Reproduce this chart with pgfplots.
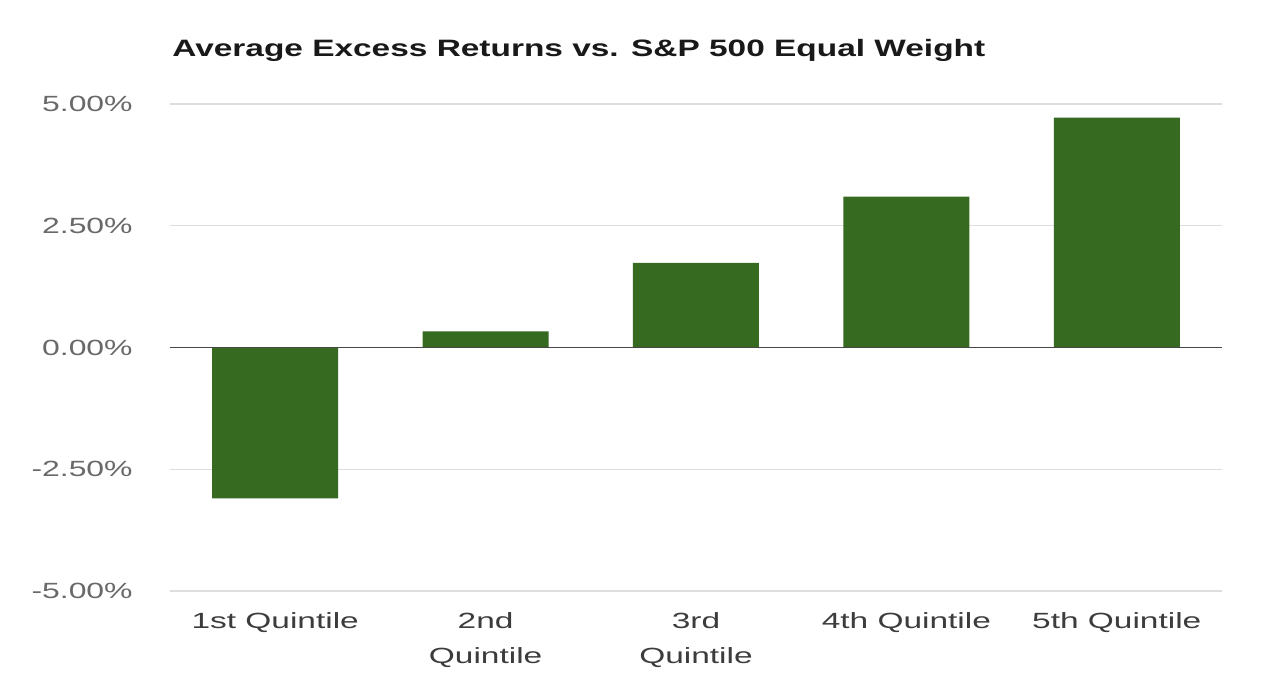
\documentclass[border=0pt]{standalone}
\usepackage{fontspec}
\setmainfont{Liberation Sans}
\newfontfamily\titlefont[FakeStretch=1.41]{Liberation Sans}
\newfontfamily\labelfont[FakeStretch=1.52]{Liberation Sans}
\newfontfamily\ylabelfont[FakeStretch=1.45]{Liberation Sans}
\usepackage{pgfplots}
\pgfplotsset{compat=1.18}
\definecolor{barg}{RGB}{54,106,33}
\definecolor{ylab}{RGB}{105,105,105}
\definecolor{xlab}{RGB}{60,60,60}
\definecolor{gridc}{RGB}{222,222,222}
\begin{document}
\begin{tikzpicture}
\useasboundingbox (0,0) rectangle (632pt,342pt);
\begin{axis}[
  at={(85pt,46.5pt)}, anchor=south west,
  scale only axis, width=526pt, height=243.5pt,
  xmin=-0.5, xmax=4.5, ymin=-5, ymax=5,
  axis line style={draw=none},
  tick style={draw=none},
  ymajorgrids, grid style={gridc, line width=0.6pt},
  ytick={-5,-2.5,0,2.5,5},
  yticklabels={-5.00\%,-2.50\%,0.00\%,2.50\%,5.00\%},
  yticklabel style={font=\ylabelfont\fontsize{11}{13}\selectfont, text=ylab, anchor=east, inner sep=0pt, xshift=-18.5pt},
  xtick={0,1,2,3,4},
  xticklabels={1st Quintile,2nd\\Quintile,3rd\\Quintile,4th Quintile,5th Quintile},
  xticklabel style={font=\labelfont\fontsize{11}{17.5}\selectfont, text=xlab, align=center, anchor=north, inner sep=0pt, yshift=-10.5pt},
]
\addplot[ybar, bar width=63pt, fill=barg, draw=none] coordinates {(0,-3.10) (1,0.33) (2,1.74) (3,3.10) (4,4.72)};
\addplot[black!72, line width=0.8pt] coordinates {(-0.5,0) (4.5,0)};
\end{axis}
\node[anchor=base west, inner sep=0pt, text=black!90] at (86pt,313.5pt) {\titlefont\bfseries\fontsize{11.85}{14}\selectfont Average Excess Returns vs. S\&P 500 Equal Weight};
\end{tikzpicture}
\end{document}
